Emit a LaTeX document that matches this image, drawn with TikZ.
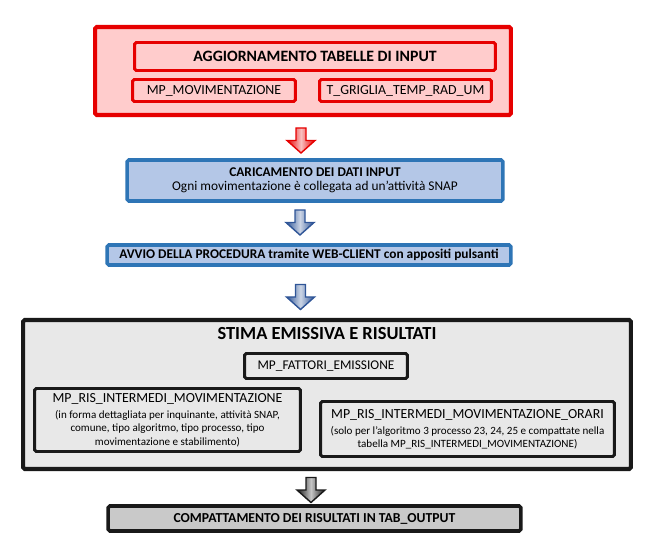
\documentclass[tikz,border=0pt]{standalone}
\usepackage{fontspec}
\setmainfont{Carlito}
\usetikzlibrary{calc}

\definecolor{redline}{RGB}{230,0,0}
\definecolor{redfill}{RGB}{255,204,204}
\definecolor{blueline}{RGB}{46,117,182}
\definecolor{bluefill}{RGB}{180,199,231}
\definecolor{bluearrow}{RGB}{47,85,151}
\definecolor{greyfill}{RGB}{232,232,232}
\definecolor{darkfill}{RGB}{201,201,201}
\definecolor{blackline}{RGB}{25,25,25}

\tikzset{
  pics/blockdown/.style={
    code={
      \path [#1] (-5,-12.5) -- (5,-12.5) -- (5,0) -- (14,0) -- (0,12.5) -- (-14,0) -- (-5,0) -- cycle;
    }
  }
}

\begin{document}
\begin{tikzpicture}[
  x=0.02cm, y=-0.02cm,
  box/.style={
      draw,
      rounded corners=1pt,
      inner sep=0pt,
      align=center,
      font=\fontsize{7.6}{8}\selectfont
    },
  redbox/.style={
      box,
      draw=redline,
      fill=redfill,
      line width=1.7pt
    },
  bluebox/.style={
      box,
      draw=blueline,
      fill=bluefill,
      line width=2pt
    },
  greybox/.style={
      box,
      draw=blackline,
      fill=greyfill,
      line width=1.7pt
    },
  notes/.style={
      greybox,
      font=\fontsize{6.3}{7.6}\selectfont
    },
  fat arrow/.style={
      draw=#1,
      line width=0.8pt,
      left color=#1,
      right color=#1,
      middle color=#1!25!white
    }]

  \useasboundingbox (0,0) rectangle (650,554);

  % input tables
  \node [redbox, line width=2.3pt, minimum width=8.32cm, minimum height=1.76cm] (input) at (303,71) {};
  \node [redbox, minimum width=7.22cm, minimum height=0.56cm, font=\bfseries\fontsize{9}{11}\selectfont] (aggiorna) at (315,56.5) {AGGIORNAMENTO TABELLE DI INPUT};
  \node [redbox, minimum width=3.26cm, minimum height=0.44cm, font=\fontsize{7.9}{9}\selectfont] (movim) at (214,90.5) {MP\_MOVIMENTAZIONE};
  \node [redbox, minimum width=3.44cm, minimum height=0.44cm, font=\fontsize{7.9}{9}\selectfont] (griglia) at (405.5,90.5) {T\_GRIGLIA\_TEMP\_RAD\_UM};

  \pic at (301,140.5) {blockdown={fat arrow=redline}};

  % loading and start
  \node [bluebox, minimum width=7.52cm, minimum height=0.82cm] (carica) at (315,180.5) {\textbf{CARICAMENTO DEI DATI INPUT}\\Ogni movimentazione è collegata ad un’attività SNAP};

  \pic at (300,222.5) {blockdown={fat arrow=bluearrow}};

  \node [bluebox, minimum width=8.08cm, minimum height=0.40cm, font=\bfseries\fontsize{7.6}{8}\selectfont] (avvio) at (309,255) {AVVIO DELLA PROCEDURA tramite WEB-CLIENT con appositi pulsanti};

  \pic at (300.5,297) {blockdown={fat arrow=bluearrow}};

  % emission estimate
  \node [greybox, line width=2.3pt, minimum width=12.16cm, minimum height=2.98cm] (stima) at (327,394.5) {};
  \node [font=\bfseries\fontsize{10.5}{12}\selectfont, inner sep=0pt] (stima_label) at (327,334) {STIMA EMISSIVA E RISULTATI};
  \node [greybox, minimum width=3.26cm, minimum height=0.50cm, font=\fontsize{7.6}{9}\selectfont] (fattori) at (326,366) {MP\_FATTORI\_EMISSIONE};
  \node [notes, minimum width=5.32cm, minimum height=1.26cm] (intermedi) at (167.5,420) {\fontsize{7.9}{9}\selectfont MP\_RIS\_INTERMEDI\_MOVIMENTAZIONE\\[1.5pt]
    (in forma dettagliata per inquinante, attività SNAP,\\
    comune, tipo algoritmo, tipo processo, tipo\\
    movimentazione e stabilimento)};
  \node [notes, minimum width=5.88cm, minimum height=1.10cm] (orari) at (467.5,429) {\fontsize{7.9}{9}\selectfont MP\_RIS\_INTERMEDI\_MOVIMENTAZIONE\_ORARI\\[1.5pt]
    (solo per l’algoritmo 3 processo 23, 24, 25 e compattate nella\\
    tabella MP\_RIS\_INTERMEDI\_MOVIMENTAZIONE)};

  \pic at (311,490) {blockdown={fat arrow=blackline}};

  % output
  \node [box, draw=blackline, fill=darkfill, line width=2pt, minimum width=8.26cm, minimum height=0.50cm, font=\bfseries\fontsize{7.8}{9}\selectfont] (output) at (314.5,518.5) {COMPATTAMENTO DEI RISULTATI IN TAB\_OUTPUT};
\end{tikzpicture}
\end{document}
